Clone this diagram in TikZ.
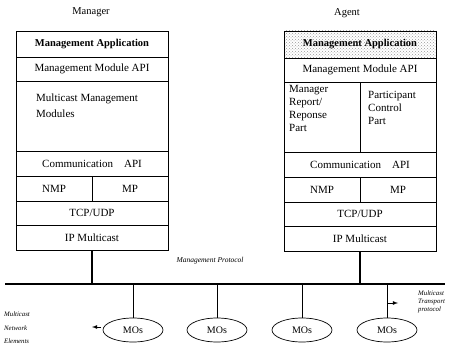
\documentclass[tikz,border=0pt]{standalone}
\usepackage{fontspec}
\setmainfont{Liberation Serif}
\usetikzlibrary{positioning,patterns,shapes.geometric}

\begin{document}
\begin{tikzpicture}[x=1pt,y=-1pt]
  \tikzset{cell/.style = {draw, line width=0.8pt, minimum width=152pt, minimum height=25pt,
      inner sep=0pt, outer sep=0pt, font=\fontsize{11}{13}\selectfont},
    half/.style = {cell, minimum width=76pt},
    head/.style = {cell, font=\fontsize{10.5}{12}\selectfont\bfseries},
    txt/.style = {inner sep=0pt, align=left, font=\fontsize{11}{13}\selectfont},
    title/.style = {font=\fontsize{10.5}{12}\selectfont},
    note/.style = {inner sep=0pt, align=left, font=\fontsize{6.8}{8}\selectfont\itshape},
    mos/.style = {draw, ellipse, line width=0.7pt, minimum width=60pt, minimum height=24pt,
      inner sep=0pt, font=\fontsize{10}{11}\selectfont},
    link/.style = {line width=1.4pt},
    bus/.style = {line width=1.8pt}}
  \useasboundingbox (0,0) rectangle (450,350);

  % manager stack
  \node[title] (manager) at (91,12) {Manager};
  \node[head, anchor=north west, minimum height=26pt] (mapp) at (16,31) {Management Application};
  \node[cell, minimum height=24pt, below=0pt of mapp] (mapi) {Management Module API};
  \node[cell, minimum height=70pt, below=0pt of mapi] (mmod) {};
  \node[txt, below right=13pt and 20pt of mmod.north west] (mmodtxt) {Multicast Management\\[3pt]Modules};
  \node[cell, below=0pt of mmod] (mcom) {Communication\quad API};
  \node[half, anchor=north west] (mnmp) at (mcom.south west) {NMP};
  \node[half, anchor=north west] (mmp) at (mnmp.north east) {MP};
  \node[cell, anchor=north west, minimum height=24pt] (mtcp) at (mnmp.south west) {TCP/UDP};
  \node[cell, below=0pt of mtcp] (mip) {IP Multicast};

  % agent stack
  \node[title] (agent) at (347,13) {Agent};
  \node[head, anchor=north west, minimum height=27pt, pattern=crosshatch dots,
    pattern color=gray!80] (aapp) at (284,31) {Management Application};
  \node[cell, minimum height=24pt, below=0pt of aapp] (aapi) {Management Module API};
  \node[half, anchor=north west, minimum height=70pt] (arep) at (aapi.south west) {};
  \node[half, anchor=north west, minimum height=70pt] (apcp) at (arep.north east) {};
  \node[txt, below right=3pt and 5pt of arep.north west] (areptxt) {Manager\\Report/\\Reponse\\Part};
  \node[txt, below right=9pt and 8pt of apcp.north west] (apcptxt) {Participant\\Control\\Part};
  \node[cell, anchor=north west] (acom) at (arep.south west) {Communication\quad API};
  \node[half, anchor=north west] (anmp) at (acom.south west) {NMP};
  \node[half, anchor=north west] (amp) at (anmp.north east) {MP};
  \node[cell, anchor=north west, minimum height=24pt] (atcp) at (anmp.south west) {TCP/UDP};
  \node[cell, below=0pt of atcp] (aip) {IP Multicast};

  % network
  \coordinate (busl) at (5,284);
  \coordinate (busr) at (445,284);
  \draw[bus] (busl) -- (busr);
  \draw[link] (mip.south) -- (mip.south |- busl);
  \draw[link] (aip.south) -- (aip.south |- busl);
  \node[note, anchor=center, font=\fontsize{7.5}{9}\selectfont\itshape] (mprot) at (210,261) {Management Protocol};

  \node[mos] (mo1) at (133,330) {MOs};
  \node[mos] (mo2) at (217,330) {MOs};
  \node[mos] (mo3) at (302,330) {MOs};
  \node[mos] (mo4) at (387,330) {MOs};
  \foreach \m in {mo1,mo2,mo3,mo4}
    \draw[line width=0.7pt] (\m.north |- busl) -- (\m.north);

  \node[note, anchor=north west, font=\fontsize{6.8}{13.5}\selectfont\itshape] (mne) at (4,312) {Multicast\\Network\\Elements};
  \node[note, anchor=north west] (mtp) at (418,291) {Multicast\\Transport\\protocol};
  \coordinate (ltail) at (101,327);
  \coordinate (lhead) at (92,327);
  \draw[-latex, line width=0.8pt] (ltail) -- (lhead);
  \coordinate (rtail) at (388,303);
  \coordinate (rhead) at (398,303);
  \draw[-latex, line width=0.8pt] (rtail) -- (rhead);
\end{tikzpicture}
\end{document}
